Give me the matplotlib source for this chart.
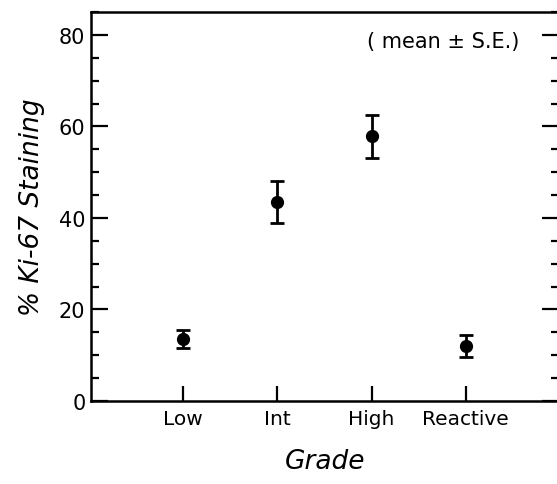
import matplotlib
matplotlib.use("Agg")
import matplotlib.pyplot as plt
from matplotlib.ticker import MultipleLocator

categories = ["Low", "Int", "High", "Reactive"]
means = [13.6, 43.5, 57.8, 12.0]
se = [2.0, 4.5, 4.6, 2.4]

plt.rcParams['font.family'] = ['DejaVu Sans']

fig = plt.figure(figsize=(5.57, 4.85), dpi=100)
ax = fig.add_axes([91/557, 83/485, 468/557, 389/485])

x = list(range(1, len(categories) + 1))
ax.errorbar(x, means, yerr=se, fmt='o', color='black', markersize=8.5,
            capsize=5, capthick=2, elinewidth=2)

ax.set_xlim(0.02, 4.99)
ax.set_ylim(0, 85)
ax.set_xticks(x)
ax.set_xticklabels(categories, fontsize=14.5)
ax.set_yticks([0, 20, 40, 60, 80])
ax.yaxis.set_minor_locator(MultipleLocator(5))
ax.tick_params(axis='y', which='major', direction='in', length=12, width=1.6,
               labelsize=15, right=True, pad=4)
ax.tick_params(axis='y', which='minor', direction='in', length=6, width=1.6, right=True)
ax.tick_params(axis='x', which='major', direction='in', length=11, width=1.6, pad=6)
for s in ax.spines.values():
    s.set_linewidth(1.8)
ax.spines['right'].set_visible(False)

ax.set_ylabel("% Ki-67 Staining", fontsize=19, style='italic', labelpad=10)
ax.set_xlabel("Grade", fontsize=19, style='italic', labelpad=14)
ax.text(0.915, 0.925, "( mean \u00b1 S.E.)", transform=ax.transAxes,
        ha='right', va='center', fontsize=15)

fig.savefig("out.png", dpi=100)
